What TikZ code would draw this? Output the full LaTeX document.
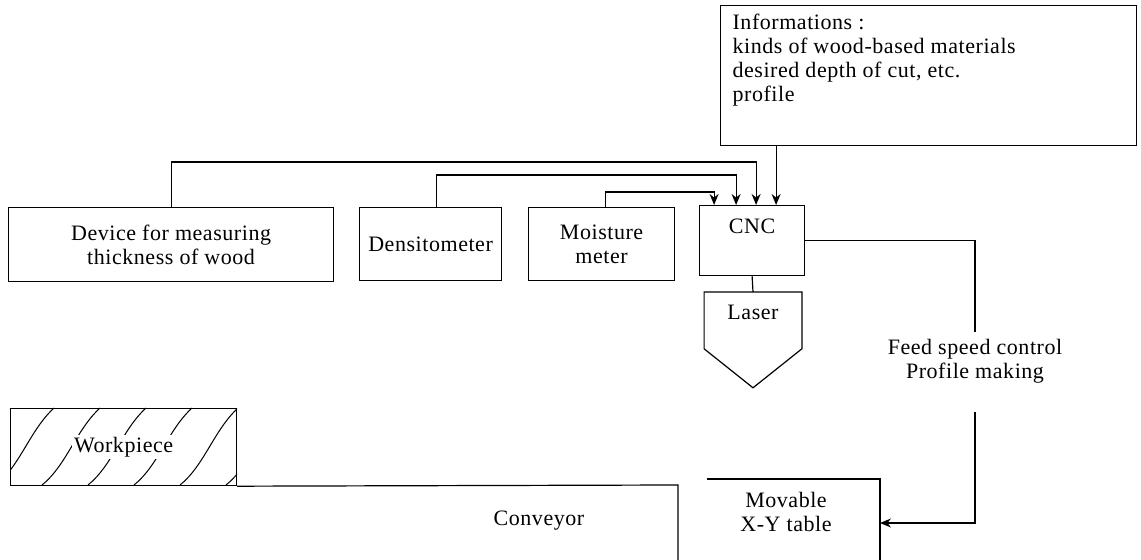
\documentclass[tikz,border=0pt]{standalone}
\usepackage{fontspec}
\setmainfont{Liberation Serif}[LetterSpace=2.5]
\usetikzlibrary{shapes.geometric, arrows, arrows.meta}
\tikzstyle{block} =
[
	rectangle
	, draw=black
	, line width=0.6pt
	, align=center
	, inner sep=0pt
	, anchor=north west
]
\tikzstyle{infobox} =
[
	rectangle
	, draw=black
	, line width=0.6pt
	, inner xsep=6pt
	, inner ysep=4pt
	, anchor=north west
]
\tikzstyle{laserbody} =
[
	rectangle
	, minimum width=48.5pt
	, minimum height=28pt
	, inner sep=0pt
	, text height=7.5pt
	, text depth=8pt
	, anchor=north
]
\tikzstyle{label1} = [align=center, inner sep=0pt]
\tikzstyle{line} = [line width=0.6pt]
\tikzstyle{hatch} = [line width=0.5pt]
\tikzstyle{arrow} = [line width=0.6pt,->,>={Stealth[length=5.5pt,width=4.5pt]}]

\begin{document}
\begin{tikzpicture}[x=0.5pt, y=-0.5pt, font=\fontsize{11}{12}\selectfont]
\useasboundingbox (0,0) rectangle (1141,560);

\node(info)[infobox] at (720,5) {\parbox[t][62pt][t]{196pt}{Informations :\\ kinds of wood-based materials\\ desired depth of cut, etc.\\ profile}};

\node(dev)[block, minimum width=162.5pt, minimum height=37pt] at (8,207) {Device for measuring\\ thickness of wood};
\node(dens)[block, minimum width=71pt, minimum height=36.5pt] at (359,207) {Densitometer};
\node(moist)[block, minimum width=73pt, minimum height=36.5pt] at (528,207) {Moisture\\ meter};
\node(cnc)[block, minimum width=52.5pt, minimum height=35pt, text height=7.5pt, text depth=15pt] at (699,205) {CNC};
\node(laser)[laserbody] at (753,292) {Laser};
\node(feed)[label1] at (975,361) {Feed speed control\\ Profile making};

\node(work)[block, minimum width=113pt, minimum height=38.5pt] at (10,408) {};
\begin{scope}
\clip (work.south west) rectangle (work.north east);
\foreach \s in {-96,-50,-4,42,88,134,180,226}
	\draw[hatch] (\s,485) .. controls (\s+24,466) and (\s+34,430) .. (\s+58,408);
\end{scope}
\node(worktext)[fill=white, inner sep=1pt] at (work.center) {Workpiece};
\node(conv)[label1] at (539,521) {Conveyor};
\node(table)[label1] at (786,512) {Movable\\ X-Y table};

\coordinate(cncin4) at ([xshift=12pt]cnc.north);
\coordinate(convtop) at (678,485);
\coordinate(convbot) at (678,560);
\coordinate(tabletl) at (707,479);
\coordinate(tabletr) at (880,479);
\coordinate(tablebot) at (880,560);
\coordinate(tablein) at (880,523);

\draw[arrow](dev.north) -- ++(0,-45) -| ([xshift=2pt]cnc.north);
\draw[arrow]([xshift=3pt]dens.north) -- ++(0,-32) -| ([xshift=-8pt]cnc.north);
\draw[arrow]([xshift=2pt]moist.north) -- ++(0,-15) -| ([xshift=-19pt]cnc.north);
\draw[arrow](info.south -| cncin4) -- (cncin4);
\draw[line](cnc.south) -- (laser.north);
\draw[line](laser.south west) -- (laser.north west) -- (laser.north east) -- (laser.south east) -- ([yshift=-19.5pt]laser.south) -- cycle;
\draw[line](cnc.east) -| ([yshift=3.5pt]feed.north);
\draw[arrow]([yshift=-14.5pt]feed.south) |- (tablein);
\draw[line](work.south east) -- (convtop) -- (convbot);
\draw[line](tabletl) -- (tabletr) -- (tablebot);

\end{tikzpicture}
\end{document}
